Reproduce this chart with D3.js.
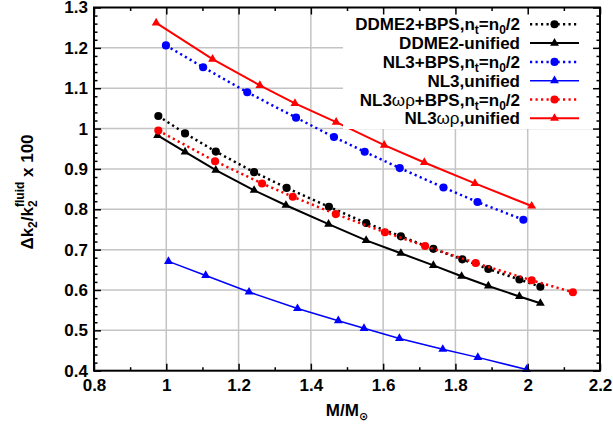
<!DOCTYPE html>
<html><head><meta charset="utf-8">
<script src="https://cdn.jsdelivr.net/npm/d3@7"></script>
<style>
html,body{margin:0;padding:0;background:#fff;}
svg{display:block;font-family:"Liberation Sans",Arial,Helvetica,sans-serif;font-weight:bold;}
</style></head>
<body><svg id="c" width="613" height="427"></svg>
<script>
// ---- data ----
const xTickValues = [0.8,1.0,1.2,1.4,1.6,1.8,2.0,2.2];
const xTickLabels = ["0.8","1","1.2","1.4","1.6","1.8","2","2.2"];
const yTickValues = [0.4,0.5,0.6,0.7,0.8,0.9,1.0,1.1,1.2,1.3];
const yTickLabels = ["0.4","0.5","0.6","0.7","0.8","0.9","1","1.1","1.2","1.3"];

const ddme2BpsM = [0.978,1.052,1.137,1.243,1.333,1.450,1.553,1.649,1.739,1.819,1.891,1.977,2.035];
const ddme2BpsK = [1.031,0.988,0.943,0.892,0.853,0.806,0.766,0.733,0.702,0.676,0.652,0.626,0.608];
const ddme2UniM = [0.976,1.052,1.137,1.243,1.331,1.449,1.553,1.649,1.739,1.817,1.891,1.977,2.035];
const ddme2UniK = [0.983,0.942,0.897,0.847,0.810,0.763,0.723,0.691,0.661,0.634,0.610,0.584,0.567];
const nl3BpsM = [0.999,1.102,1.224,1.359,1.464,1.549,1.646,1.767,1.861,1.988];
const nl3BpsK = [1.206,1.152,1.090,1.027,0.979,0.9425,0.902,0.854,0.818,0.774];
const nl3UniM = [1.006,1.109,1.229,1.363,1.476,1.547,1.645,1.765,1.862,1.997];
const nl3UniK = [0.671,0.636,0.595,0.554,0.524,0.505,0.480,0.453,0.433,0.403];
const nl3wrBpsM = [0.978,1.135,1.265,1.350,1.469,1.605,1.716,1.856,2.011,2.125];
const nl3wrBpsK = [0.995,0.919,0.864,0.831,0.788,0.743,0.709,0.667,0.624,0.5945];
const nl3wrUniM = [0.972,1.128,1.259,1.356,1.470,1.603,1.714,1.854,2.011];
const nl3wrUniK = [1.262,1.172,1.107,1.0625,1.016,0.959,0.916,0.864,0.808];

// legend label parts: [main, sub, main, sub, main]
const seriesNames = [
  {pre:"DDME2+BPS,", bps:true},
  {pre:"DDME2-unified", bps:false},
  {pre:"NL3+BPS,", bps:true},
  {pre:"NL3,unified", bps:false},
  {pre:"NL3", greek:"ωρ", post:"+BPS,", bps:true},
  {pre:"NL3", greek:"ωρ", post:",unified", bps:false}
];

const series = [
  {m:ddme2BpsM, k:ddme2BpsK, color:"#000000", dotted:true,  marker:"circle",  width:2.5},
  {m:ddme2UniM, k:ddme2UniK, color:"#000000", dotted:false, marker:"triangle",width:2},
  {m:nl3BpsM,   k:nl3BpsK,   color:"#0000ff", dotted:true,  marker:"circle",  width:2.5},
  {m:nl3UniM,   k:nl3UniK,   color:"#0000ff", dotted:false, marker:"triangle",width:1.5},
  {m:nl3wrBpsM, k:nl3wrBpsK, color:"#ff0000", dotted:true,  marker:"circle",  width:2.5},
  {m:nl3wrUniM, k:nl3wrUniK, color:"#ff0000", dotted:false, marker:"triangle",width:2}
];

// ---- layout ----
const L=94, R=600, T=7.5, B=370.7;
const svg = d3.select("#c");
const x = d3.scaleLinear().domain([0.8,2.2]).range([L,R]);
const y = d3.scaleLinear().domain([0.4,1.3]).range([B,T]);

// grid
const grid = svg.append("g").attr("stroke","#c4c4c4").attr("stroke-width",1.5);
xTickValues.slice(1,-1).forEach(v=>grid.append("line").attr("x1",x(v)).attr("x2",x(v)).attr("y1",T).attr("y2",B));
yTickValues.slice(1,-1).forEach(v=>grid.append("line").attr("x1",L).attr("x2",R).attr("y1",y(v)).attr("y2",y(v)));

// series
const symCircle = d3.symbol().type(d3.symbolCircle).size(52);
const symTri = d3.symbol().type(d3.symbolTriangle).size(34);
const line = d3.line().x(d=>x(d[0])).y(d=>y(d[1]));
series.forEach(s=>{
  const pts = s.m.map((v,i)=>[v,s.k[i]]);
  const g = svg.append("g");
  g.append("path").attr("d",line(pts)).attr("fill","none").attr("stroke",s.color)
    .attr("stroke-width",s.width).attr("stroke-dasharray",s.dotted?"2.2,3.3":null);
  g.selectAll("path.mk").data(pts).join("path").attr("class","mk")
    .attr("transform",d=>`translate(${x(d[0])},${y(d[1])})`)
    .attr("d",s.marker==="circle"?symCircle():symTri()).attr("fill",s.color);
});

// legend (opaque box)
svg.append("rect").attr("x",343).attr("y",9).attr("width",255).attr("height",120).attr("fill","#fff");
const legY0 = 24.3, legDy = 18.8;
seriesNames.forEach((n,i)=>{
  const yy = legY0 + i*legDy;
  const t = svg.append("text").attr("x",520).attr("y",yy+6).attr("text-anchor","end")
    .attr("font-size",17).attr("fill","#000");
  t.append("tspan").text(n.pre);
  if(n.greek){ t.append("tspan").attr("font-weight","normal").text(n.greek); t.append("tspan").text(n.post); }
  if(n.bps){
    t.append("tspan").text("n");
    t.append("tspan").attr("font-size",12).attr("dy",4).text("t");
    t.append("tspan").attr("dy",-4).text("=n");
    t.append("tspan").attr("font-size",12).attr("dy",4).text("0");
    t.append("tspan").attr("dy",-4).text("/2");
  }
  const s = series[i];
  svg.append("line").attr("x1",530).attr("x2",579).attr("y1",yy).attr("y2",yy)
    .attr("stroke",s.color).attr("stroke-width",s.width).attr("stroke-dasharray",s.dotted?"2.2,3.3":null);
  svg.append("path").attr("transform",`translate(554.5,${yy})`)
    .attr("d",s.marker==="circle"?symCircle():symTri()).attr("fill",s.color);
});

// axes (ticks inward, mirrored)
function styleAxis(g){ g.selectAll(".domain").remove(); g.selectAll(".tick line").attr("stroke","#000").attr("stroke-width",1.5);
  g.selectAll("text").attr("font-size",17).attr("font-weight","bold").attr("fill","#000").attr("font-family","Liberation Sans, Arial, sans-serif"); }
const xMinor = d3.range(0.9,2.2,0.2);
const yMinor = d3.range(0.42,1.3,0.02).filter(v=>Math.abs(Math.round(v*10)-v*10)>1e-6);

svg.append("g").attr("transform",`translate(0,${B})`)
  .call(d3.axisBottom(x).tickValues(xTickValues).tickFormat((d,i)=>xTickLabels[i]).tickSizeInner(-7).tickSizeOuter(0).tickPadding(8)).call(styleAxis);
svg.append("g").attr("transform",`translate(0,${B})`)
  .call(d3.axisBottom(x).tickValues(xMinor).tickFormat("").tickSizeInner(-3.5).tickSizeOuter(0)).call(styleAxis);
svg.append("g").attr("transform",`translate(0,${T})`)
  .call(d3.axisTop(x).tickValues(xTickValues).tickFormat("").tickSizeInner(-7).tickSizeOuter(0)).call(styleAxis);
svg.append("g").attr("transform",`translate(0,${T})`)
  .call(d3.axisTop(x).tickValues(xMinor).tickFormat("").tickSizeInner(-3.5).tickSizeOuter(0)).call(styleAxis);
svg.append("g").attr("transform",`translate(${L},0)`)
  .call(d3.axisLeft(y).tickValues(yTickValues).tickFormat((d,i)=>yTickLabels[i]).tickSizeInner(-7).tickSizeOuter(0).tickPadding(6)).call(styleAxis);
svg.append("g").attr("transform",`translate(${L},0)`)
  .call(d3.axisLeft(y).tickValues(yMinor).tickFormat("").tickSizeInner(-3.5).tickSizeOuter(0)).call(styleAxis);
svg.append("g").attr("transform",`translate(${R},0)`)
  .call(d3.axisRight(y).tickValues(yTickValues).tickFormat("").tickSizeInner(-7).tickSizeOuter(0)).call(styleAxis);
svg.append("g").attr("transform",`translate(${R},0)`)
  .call(d3.axisRight(y).tickValues(yMinor).tickFormat("").tickSizeInner(-3.5).tickSizeOuter(0)).call(styleAxis);

// border
svg.append("rect").attr("x",L).attr("y",T).attr("width",R-L).attr("height",B-T)
  .attr("fill","none").attr("stroke","#000").attr("stroke-width",2);

// axis titles
const xt = svg.append("text").attr("x",347).attr("y",416).attr("text-anchor","middle").attr("font-size",17);
xt.append("tspan").text("M/M");
xt.append("tspan").attr("font-size",11).attr("dy",4).attr("font-family","DejaVu Sans").text("⊙");

const yt = svg.append("text").attr("transform","translate(33,192) rotate(-90)").attr("text-anchor","middle").attr("font-size",17);
yt.append("tspan").text("Δk");
yt.append("tspan").attr("font-size",12).attr("dy",4).text("2");
yt.append("tspan").attr("dy",-4).text("/k");
yt.append("tspan").attr("font-size",12).attr("dy",4).text("2");
yt.append("tspan").attr("font-size",12).attr("dx",-6.7).attr("dy",-13).text("fluid");
yt.append("tspan").attr("dy",9).text(" x 100");
</script></body></html>
